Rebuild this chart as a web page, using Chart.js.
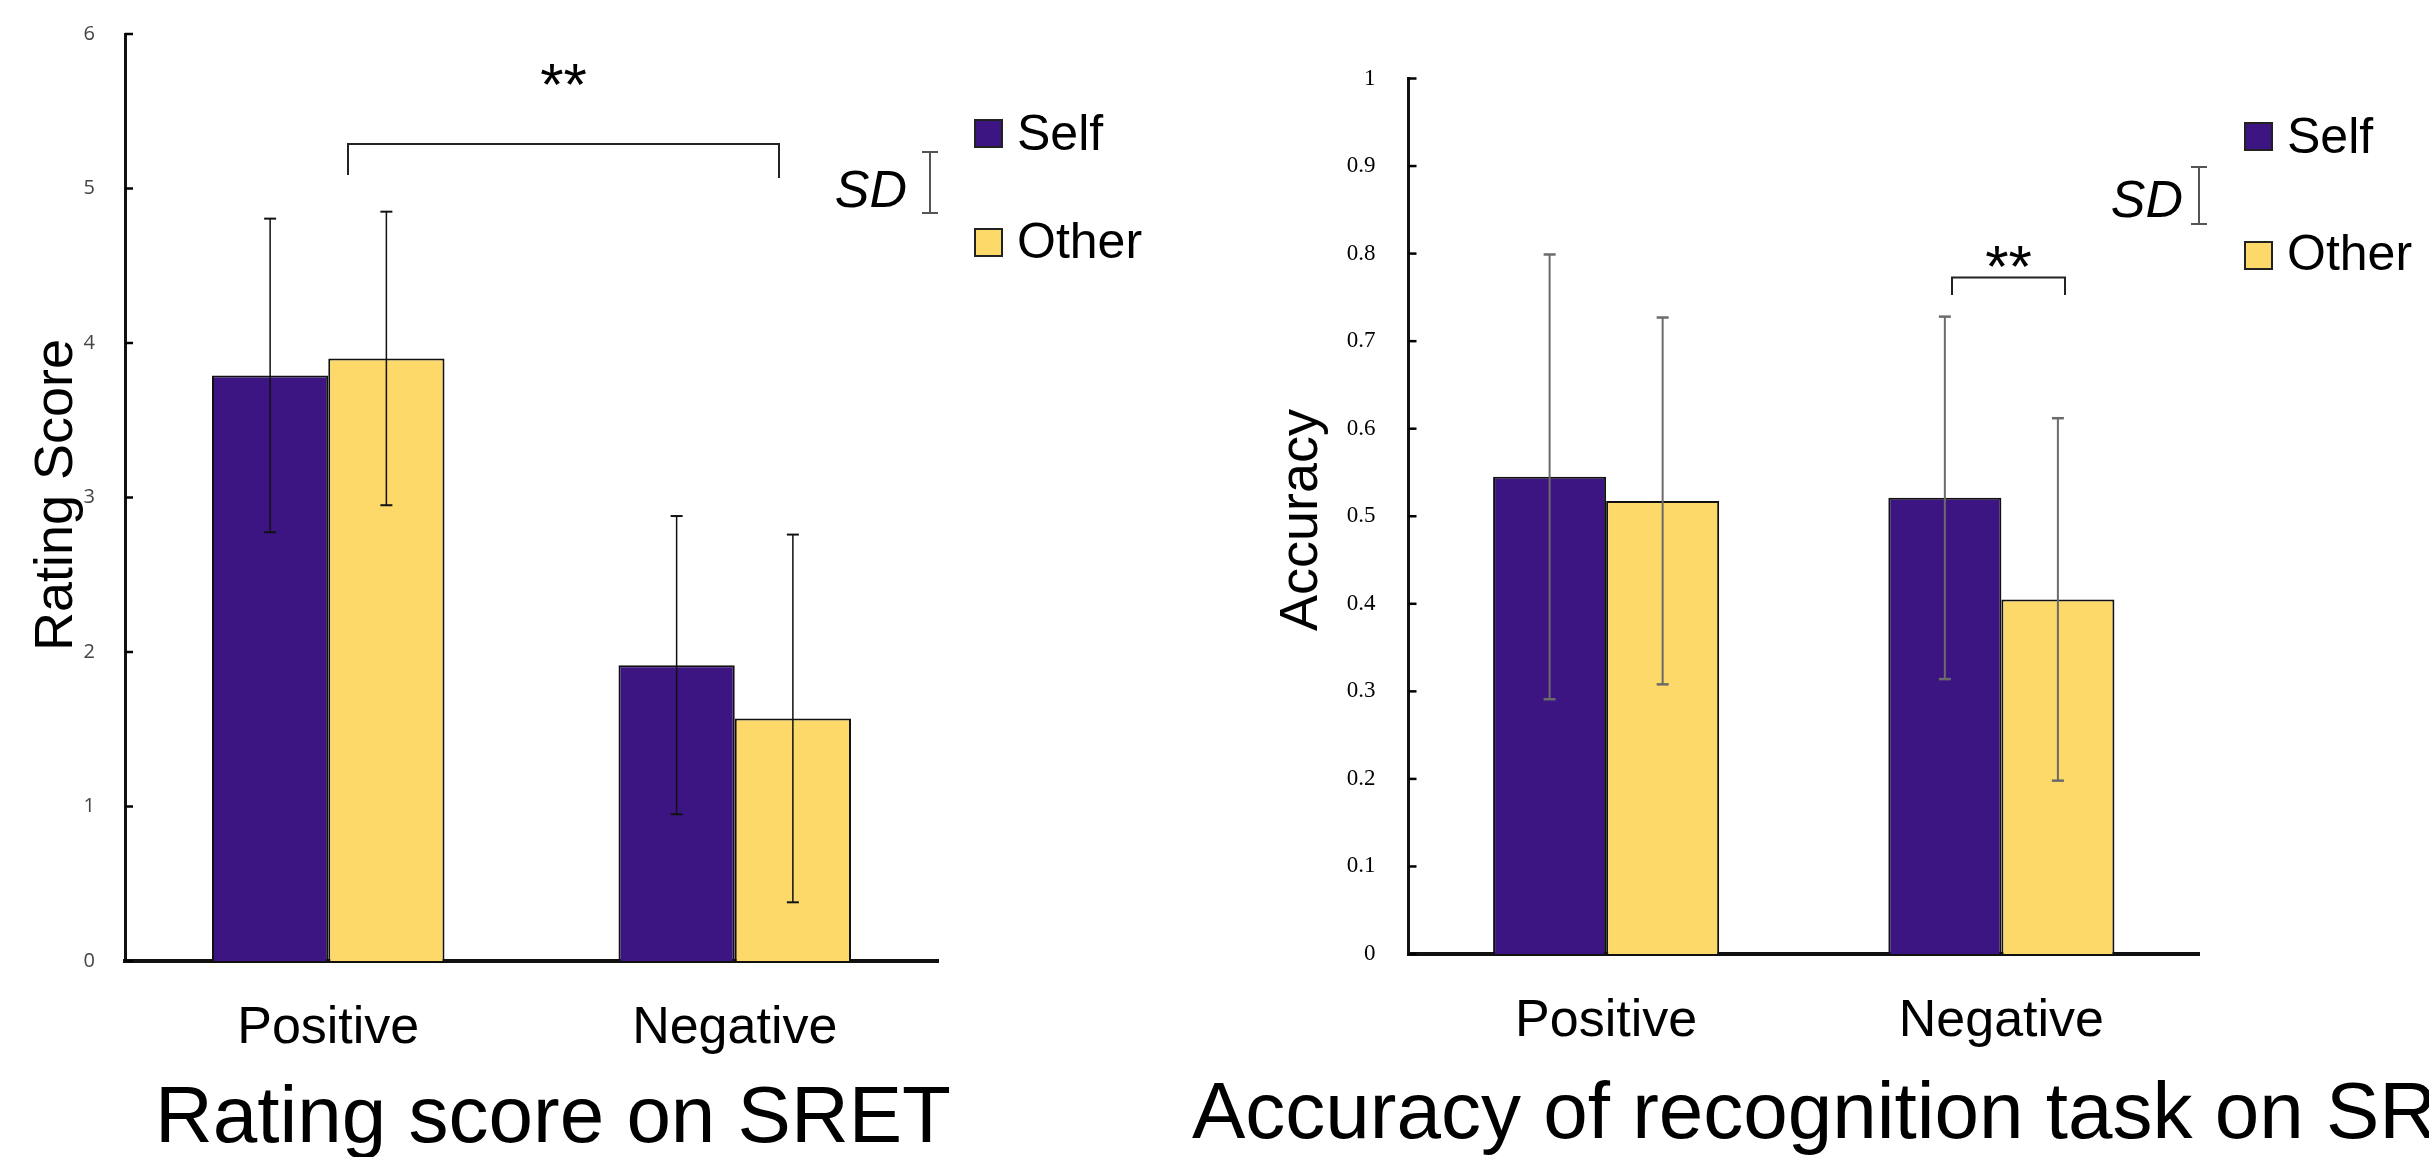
<!DOCTYPE html>
<html>
<head>
<meta charset="utf-8">
<script src="https://cdn.jsdelivr.net/npm/chart.js@4.4.0/dist/chart.umd.min.js"></script>
<style>
  html, body { margin: 0; padding: 0; background: #fff; overflow: hidden; }
  #wrap { position: relative; width: 2429px; height: 1157px; }
  canvas { position: absolute; top: 0; }
  #rating { left: 0; }
  #accuracy { left: 1180px; }
</style>
</head>
<body>
<div id="wrap">
  <canvas id="rating" width="1215" height="1157"></canvas>
  <canvas id="accuracy" width="1249" height="1157"></canvas>
</div>
<script>
// categories and series
const categories = ['Positive', 'Negative'];
const seriesNames = ['Self', 'Other'];
const seriesColors = ['#3c1582', '#fdd96a'];

// Rating score on SRET (mean, SD)
const ratingSelf = [3.79, 1.915];
const ratingOther = [3.90, 1.57];
const ratingSelfSD = [1.015, 0.965];
const ratingOtherSD = [0.95, 1.19];
const ratingTicks = ['0', '1', '2', '3', '4', '5', '6'];

// Accuracy of recognition task on SRET (mean, SD)
const accSelf = [0.545, 0.521];
const accOther = [0.5175, 0.405];
const accSelfSD = [0.254, 0.207];
const accOtherSD = [0.2095, 0.207];
const accTicks = ['0', '0.1', '0.2', '0.3', '0.4', '0.5', '0.6', '0.7', '0.8', '0.9', '1'];

function txt(ctx, s, x, y, font, color, align) {
  ctx.save();
  ctx.font = font;
  ctx.fillStyle = color;
  ctx.textAlign = align || 'left';
  ctx.textBaseline = 'alphabetic';
  ctx.fillText(s, x, y);
  ctx.restore();
}

// text centred vertically on its ink
function txtMid(ctx, s, x, cy, font, color, align) {
  ctx.save();
  ctx.font = font;
  const m = ctx.measureText(s);
  const y = cy + (m.actualBoundingBoxAscent - m.actualBoundingBoxDescent) / 2;
  ctx.restore();
  txt(ctx, s, x, y, font, color, align);
}

function line(ctx, pts, color, w) {
  ctx.save();
  ctx.strokeStyle = color;
  ctx.lineWidth = w;
  ctx.beginPath();
  pts.forEach((p, i) => i ? ctx.lineTo(p[0], p[1]) : ctx.moveTo(p[0], p[1]));
  ctx.stroke();
  ctx.restore();
}

const errorBars = {
  id: 'errorBars',
  afterDatasetsDraw(chart, args, opts) {
    const ctx = chart.ctx;
    const y = chart.scales.y;
    chart.data.datasets.forEach((ds, i) => {
      chart.getDatasetMeta(i).data.forEach((bar, j) => {
        const top = y.getPixelForValue(ds.data[j] + ds.sd[j]);
        const bot = y.getPixelForValue(ds.data[j] - ds.sd[j]);
        line(ctx, [[bar.x, top], [bar.x, bot]], opts.color, opts.width);
        line(ctx, [[bar.x - opts.cap, top], [bar.x + opts.cap, top]], opts.color, opts.width + 0.5);
        line(ctx, [[bar.x - opts.cap, bot], [bar.x + opts.cap, bot]], opts.color, opts.width + 0.5);
      });
    });
  }
};

const deco = {
  id: 'deco',
  afterDraw(chart, args, o) {
    const ctx = chart.ctx;
    const a = chart.chartArea;
    const y = chart.scales.y;

    // inside tick marks
    y.ticks.forEach(t => {
      const py = y.getPixelForValue(t.value);
      line(ctx, [[a.left, py], [a.left + 8, py]], '#000', 2.5);
    });

    // axis title
    ctx.save();
    ctx.translate(o.yTitleX, o.yTitleY);
    ctx.rotate(-Math.PI / 2);
    txt(ctx, o.yTitle, 0, 0, '54px "Liberation Sans", Arial, sans-serif', '#000', 'center');
    ctx.restore();

    // chart title
    txt(ctx, o.title, o.titleX, o.titleY, '80px "Liberation Sans", Arial, sans-serif', '#000', o.titleAlign);

    // legend
    chart.data.datasets.forEach((ds, i) => {
      const lg = o.legend[i];
      ctx.save();
      ctx.fillStyle = ds.backgroundColor;
      ctx.strokeStyle = '#222';
      ctx.lineWidth = 2;
      ctx.fillRect(lg.x, lg.y, 27, 27);
      ctx.strokeRect(lg.x, lg.y, 27, 27);
      ctx.restore();
      txt(ctx, ds.label, lg.x + 42, lg.base, '50px "Liberation Sans", Arial, sans-serif', '#000', 'left');
    });

    // SD key
    const sd = o.sdKey;
    txt(ctx, 'SD', sd.textRight, sd.textBase, 'italic 52px "Liberation Sans", Arial, sans-serif', '#000', 'right');
    line(ctx, [[sd.x, sd.top], [sd.x, sd.bottom]], '#555', 2);
    line(ctx, [[sd.x - 8, sd.top], [sd.x + 8, sd.top]], '#555', 2);
    line(ctx, [[sd.x - 8, sd.bottom], [sd.x + 8, sd.bottom]], '#555', 2);

    // significance bracket
    const s = o.sig;
    line(ctx, [[s.x1, s.leg1], [s.x1, s.y], [s.x2, s.y], [s.x2, s.leg2]], '#222', 2);
    txtMid(ctx, '**', (s.x1 + s.x2) / 2, s.starY, '60px "Liberation Sans", Arial, sans-serif', '#000', 'center');
  }
};

function makeChart(id, self, other, selfSD, otherSD, yMax, step, tickLabels, tickFont, tickColor, tickPad, size, errOpts, decoOpts) {
  return new Chart(document.getElementById(id), {
    type: 'bar',
    data: {
      labels: categories,
      datasets: [
        { label: seriesNames[0], data: self, sd: selfSD, backgroundColor: seriesColors[0] },
        { label: seriesNames[1], data: other, sd: otherSD, backgroundColor: seriesColors[1] }
      ]
    },
    options: {
      responsive: false,
      animation: false,
      devicePixelRatio: 1,
      categoryPercentage: 0.572,
      barPercentage: 1.0,
      datasets: { bar: { borderColor: '#111', borderWidth: 2 } },
      layout: { padding: { top: size.top, right: size.right, left: 0, bottom: 0 } },
      plugins: {
        legend: { display: false },
        tooltip: { enabled: false },
        errorBars: errOpts,
        deco: decoOpts
      },
      scales: {
        x: {
          grid: { display: false },
          border: { display: true, color: '#111', width: 4 },
          ticks: { font: { family: '"Liberation Sans", Arial, sans-serif', size: 52 }, color: '#000', padding: 28 },
          afterFit: sc => { sc.height = size.xHeight; }
        },
        y: {
          min: 0,
          max: yMax,
          grid: { display: false },
          border: { display: true, color: '#111', width: 3 },
          ticks: {
            stepSize: step,
            font: tickFont,
            color: tickColor,
            padding: tickPad,
            callback: (v, i) => tickLabels[i]
          },
          afterFit: sc => { sc.width = size.yWidth; }
        }
      }
    },
    plugins: [errorBars, deco]
  });
}

makeChart('rating', ratingSelf, ratingOther, ratingSelfSD, ratingOtherSD, 6, 1, ratingTicks,
  { family: '"Open Sans", "Noto Sans", sans-serif', size: 20 }, '#444', 22,
  { top: 30.6, right: 277, xHeight: 196, yWidth: 125 },
  { color: '#111', width: 1.5, cap: 6 },
  {
    yTitle: 'Rating Score', yTitleX: 72, yTitleY: 495,
    title: 'Rating score on SRET', titleX: 553, titleY: 1142, titleAlign: 'center',
    legend: [{ x: 975, y: 120, base: 150 }, { x: 975, y: 229, base: 258 }],
    sdKey: { textRight: 907, textBase: 207, x: 930, top: 152, bottom: 213 },
    sig: { x1: 348, x2: 779, y: 144, leg1: 175, leg2: 178, starY: 74 }
  });

makeChart('accuracy', accSelf, accOther, accSelfSD, accOtherSD, 1, 0.1, accTicks,
  { family: '"Liberation Serif", "Times New Roman", serif', size: 23 }, '#000', 25,
  { top: 78.5, right: 230, xHeight: 203, yWidth: 228.5 },
  { color: '#6b6b6b', width: 2, cap: 6 },
  {
    yTitle: 'Accuracy', yTitleX: 137, yTitleY: 520,
    title: 'Accuracy of recognition task on SRET', titleX: 12, titleY: 1138, titleAlign: 'left',
    legend: [{ x: 1065, y: 123, base: 153 }, { x: 1065, y: 242, base: 270 }],
    sdKey: { textRight: 1003, textBase: 217, x: 1019, top: 167, bottom: 224 },
    sig: { x1: 772, x2: 885, y: 277.5, leg1: 295, leg2: 295, starY: 256 }
  });
</script>
</body>
</html>
